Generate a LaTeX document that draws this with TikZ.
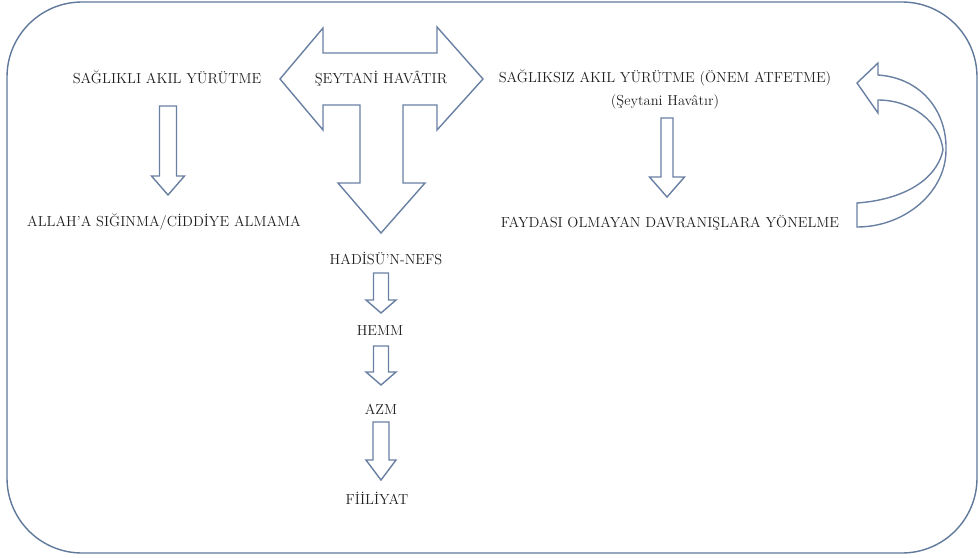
\documentclass[tikz,border=0pt]{standalone}
\usepackage{tikz}
\usepackage{xcolor}
\usetikzlibrary{calc}
\definecolor{frameBlue}{RGB}{95,120,155}
\definecolor{arrowBlue}{RGB}{105,128,162}
\definecolor{textGray}{RGB}{30,30,30}
\tikzset{
  frame/.style={draw=frameBlue, line width=1.4pt, rounded corners=75pt},
  blockarr/.style={draw=arrowBlue, line width=1.4pt, fill=white, line join=miter},
  label/.style={text=textGray, inner sep=1pt, font=\fontsize{14.5}{16}\selectfont},
  sublabel/.style={text=textGray, inner sep=1pt, font=\fontsize{14.5}{16}\selectfont}
}
% block arrow pointing down: start, tip, half shaft, half head, head length
\newcommand{\blockdown}[5]{%
  \draw[blockarr] let \p1=(#1), \p2=(#2) in
    (\x1-#3,\y1) -- (\x1+#3,\y1) -- (\x1+#3,\y2+#5) -- (\x1+#4,\y2+#5)
    -- (\x1,\y2) -- (\x1-#4,\y2+#5) -- (\x1-#3,\y2+#5) -- cycle;}

\begin{document}
\begin{tikzpicture}[x=1pt,y=1pt]
  \useasboundingbox (0,0) rectangle (980,-557);
  \draw[frame] (7,-2) rectangle (977,-553);

  % T shaped arrow
  \draw[blockarr] (280,-79) -- (323,-28) -- (323,-53) -- (437,-53) -- (437,-27)
    -- (483,-79) -- (437,-130) -- (437,-105) -- (403,-105) -- (403,-183)
    -- (425,-183) -- (381,-233) -- (338,-183) -- (360,-183) -- (360,-105)
    -- (323,-105) -- (323,-130) -- cycle;

  % loop back arrow
  \draw[blockarr] (857,-203) .. controls (900,-200) and (936,-182) .. (943,-150)
    .. controls (940,-122) and (912,-100) .. (878,-100)
    -- (878,-113) -- (857,-83) -- (878,-63) -- (878,-75)
    .. controls (922,-78) and (947,-112) .. (946,-150)
    .. controls (946,-192) and (905,-227) .. (857,-227) -- cycle;

  \node[label] (seytan) at (381,-79) {ŞEYTANİ HAVÂTIR};
  \node[label] (sagl) at (167,-77) {SAĞLIKLI AKIL YÜRÜTME};
  \node[label] (allah) at (164,-222) {ALLAH'A SIĞINMA/CİDDİYE ALMAMA};
  \node[label] (sagsiz) at (665,-78) {SAĞLIKSIZ AKIL YÜRÜTME (ÖNEM ATFETME)};
  \node[sublabel] (sagsizsub) at (665,-102) {(Şeytani Havâtır)};
  \node[label] (fayda) at (670,-223) {FAYDASI OLMAYAN DAVRANIŞLARA YÖNELME};
  \node[label] (hadis) at (386,-258) {HADİSÜ'N-NEFS};
  \node[label] (hemm) at (380,-331) {HEMM};
  \node[label] (azm) at (381,-409) {AZM};
  \node[label] (fiil) at (377,-498) {FİİLİYAT};

  \blockdown{$(sagl)+(1,-29)$}{$(allah)+(0,27)$}{8.5pt}{16.5pt}{19pt}
  \blockdown{$(sagsiz)+(2,-40)$}{$(fayda)+(0,26)$}{6pt}{17.5pt}{20pt}
  \blockdown{$(hadis)+(-5,-15)$}{$(hemm)+(0,18)$}{7.5pt}{15pt}{13pt}
  \blockdown{$(hemm)+(1,-15)$}{$(azm)+(0,24)$}{7.5pt}{15pt}{13pt}
  \blockdown{$(azm)+(0,-13)$}{$(fiil)+(0,18)$}{8pt}{15pt}{20pt}
\end{tikzpicture}
\end{document}
